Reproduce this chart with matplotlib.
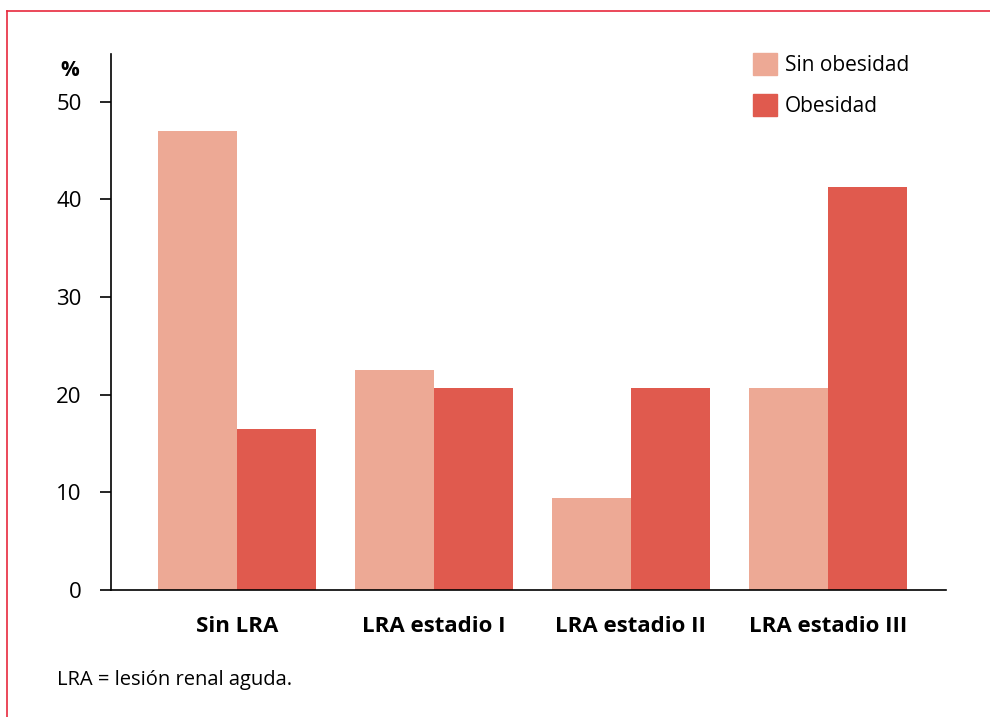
import numpy as np
import matplotlib.pyplot as plt
from matplotlib.lines import Line2D
from matplotlib.patches import Patch

plt.rcParams['font.family'] = ['Open Sans', 'DejaVu Sans']

categories = ['Sin LRA', 'LRA estadio I', 'LRA estadio II', 'LRA estadio III']
sin_obesidad = [47.0, 22.5, 9.4, 20.7]
obesidad = [16.5, 20.7, 20.7, 41.3]
series_names = ['Sin obesidad', 'Obesidad']

c_light = '#EDA995'
c_dark = '#E05A4E'
c_frame = '#E8293D'

fig = plt.figure(figsize=(9.9, 7.17), dpi=100)
ax = fig.add_axes([0.1121, 0.1771, 0.8435, 0.7476])

x = np.arange(len(categories))
w = 0.402
ax.bar(x - w / 2, sin_obesidad, w, color=c_light)
ax.bar(x + w / 2, obesidad, w, color=c_dark)

ax.set_xlim(-0.64, 3.60)
ax.set_ylim(0, 54.9)
ax.set_yticks([0, 10, 20, 30, 40, 50])
ax.set_xticks(x)
ax.set_xticklabels(categories, fontsize=16, fontweight='bold')
ax.tick_params(axis='x', length=0, pad=19)
ax.tick_params(axis='y', labelsize=16, length=8, width=1.2, pad=13)
for s in ['top', 'right']:
    ax.spines[s].set_visible(False)
for s in ['left', 'bottom']:
    ax.spines[s].set_linewidth(1.2)

fig.text(70 / 990, 1 - 70 / 717, '%', fontsize=15, fontweight='bold', ha='center', va='center')

handles = [Patch(color=c_light), Patch(color=c_dark)]
fig.legend(handles, series_names, loc='upper left', bbox_to_anchor=(734 / 990, 1 - 34 / 717),
           frameon=False, fontsize=15, handlelength=1.15, handleheight=1.3,
           handletextpad=0.4, labelspacing=0.85)

fig.text(57 / 990, 1 - 680 / 717, 'LRA = lesión renal aguda.', fontsize=14.5, va='center')

fig.add_artist(Line2D([7 / 990, 1], [1 - 10.5 / 717] * 2, color=c_frame, lw=1.2))
fig.add_artist(Line2D([7 / 990] * 2, [0, 1 - 10.5 / 717], color=c_frame, lw=1.2))

fig.savefig('out.png', dpi=100)
